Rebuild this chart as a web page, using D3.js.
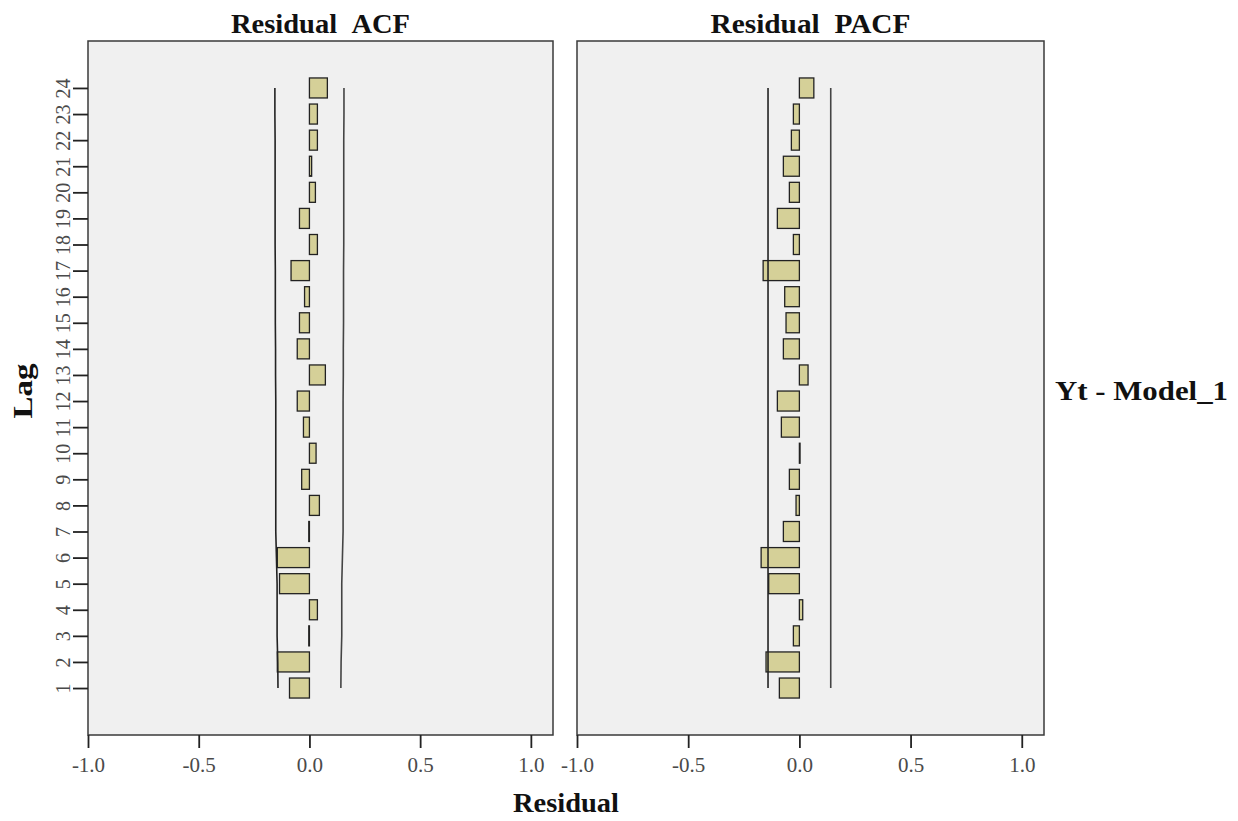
<!DOCTYPE html>
<html>
<head>
<meta charset="utf-8">
<script src="https://cdn.jsdelivr.net/npm/d3@7"></script>
<style>
  body { margin: 0; background: #fff; }
  text { font-family: "Liberation Serif", "DejaVu Serif", serif; }
</style>
</head>
<body>
<div id="chart-area"></div>
<script>
// lags 1..24
const lags = d3.range(1, 25);

const acfValues = [-0.09, -0.145, -0.003, 0.036, -0.135, -0.145, -0.003, 0.045, -0.035, 0.03,
  -0.027, -0.055, 0.072, -0.055, -0.045, -0.022, -0.083, 0.036, -0.045, 0.027,
  0.01, 0.036, 0.036, 0.081];

const pacfValues = [-0.09, -0.15, -0.027, 0.015, -0.138, -0.172, -0.072, -0.015, -0.045, 0.003,
  -0.081, -0.099, 0.039, -0.072, -0.06, -0.066, -0.163, -0.027, -0.099, -0.045,
  -0.072, -0.036, -0.027, 0.065];

// confidence limits
const acfLimits = [0.142, 0.143, 0.146, 0.146, 0.146, 0.149, 0.152, 0.152, 0.152, 0.152,
  0.152, 0.152, 0.153, 0.153, 0.154, 0.154, 0.154, 0.155, 0.155, 0.155,
  0.155, 0.155, 0.156, 0.156];
const pacfLimits = lags.map(() => 0.141);

const xTicks = [-1, -0.5, 0, 0.5, 1];

const WIDTH = 1238, HEIGHT = 821;
const TOP = 41, BOTTOM = 735;

const svg = d3.select('#chart-area')
  .append('svg')
  .attr('width', WIDTH)
  .attr('height', HEIGHT);

const y = d3.scaleLinear()
  .domain([-0.8, 25.8])
  .range([BOTTOM, TOP]);

const panels = [
  {title: 'Residual\u00a0\u00a0ACF', titleLen: 179, values: acfValues, limits: acfLimits, left: 88, right: 553},
  {title: 'Residual\u00a0\u00a0PACF', titleLen: 200, values: pacfValues, limits: pacfLimits, left: 577, right: 1044}
];

// bold label helper, stretched to the width seen in the picture
const boldText = (sel, txt, len) => sel
  .attr('font-size', '28px')
  .attr('font-weight', 'bold')
  .attr('fill', '#111')
  .attr('textLength', len)
  .attr('lengthAdjust', 'spacingAndGlyphs')
  .text(txt);

panels.forEach((p, i) => {
  const x = d3.scaleLinear()
    .domain([-1, 1.1])
    .range([p.left, p.right]);

  const g = svg.append('g');

  g.append('rect')
    .attr('x', p.left)
    .attr('y', TOP)
    .attr('width', p.right - p.left)
    .attr('height', BOTTOM - TOP)
    .attr('fill', '#f0f0f0')
    .attr('stroke', '#3a3a3a')
    .attr('stroke-width', 1.5);

  // title
  g.append('text')
    .attr('x', (p.left + p.right) / 2)
    .attr('y', 33)
    .attr('text-anchor', 'middle')
    .call(boldText, p.title, p.titleLen);

  // bars
  const data = lags.map((l, j) => ({lag: l, v: p.values[j], lim: p.limits[j]}));
  const bh = 20;
  g.selectAll('rect.bar').data(data)
    .enter().append('rect')
    .attr('class', 'bar')
    .attr('x', d => Math.min(x(0), x(d.v)))
    .attr('y', d => y(d.lag) - bh / 2)
    .attr('width', d => Math.abs(x(d.v) - x(0)))
    .attr('height', bh)
    .attr('fill', '#d5d098')
    .attr('stroke', '#222')
    .attr('stroke-width', 1.3);

  // confidence limits
  const line = d3.line().x(d => x(d[0])).y(d => y(d[1]));
  g.append('path')
    .attr('d', line(data.map(d => [-d.lim, d.lag])))
    .attr('fill', 'none')
    .attr('stroke', '#222')
    .attr('stroke-width', 1.6);
  g.append('path')
    .attr('d', line(data.map(d => [d.lim, d.lag])))
    .attr('fill', 'none')
    .attr('stroke', '#444')
    .attr('stroke-width', 1.6);

  // x axis
  const xAxis = g.append('g')
    .attr('transform', `translate(0,${BOTTOM})`)
    .call(d3.axisBottom(x).tickValues(xTicks).tickSize(13).tickPadding(9)
      .tickFormat(d => d.toFixed(1)));
  xAxis.select('.domain').remove();
  xAxis.selectAll('line').attr('stroke', '#222').attr('stroke-width', 1.8);
  xAxis.selectAll('text')
    .attr('font-size', '21px')
    .attr('fill', '#4a4a4a')
    .attr('font-family', '"Liberation Serif", serif');

  // y axis on the left panel only
  if (i === 0) {
    const yAxis = g.append('g')
      .attr('transform', `translate(${p.left},0)`)
      .call(d3.axisLeft(y).tickValues(lags).tickSize(15));
    yAxis.select('.domain').remove();
    yAxis.selectAll('line').attr('stroke', '#222').attr('stroke-width', 1.8);
    yAxis.selectAll('text')
      .attr('transform', 'rotate(-90)')
      .attr('x', 0)
      .attr('y', -18)
      .attr('dy', 0)
      .attr('text-anchor', 'middle')
      .attr('font-size', '20px')
      .attr('fill', '#4a4a4a')
      .attr('font-family', '"Liberation Serif", serif');
  }
});

// axis titles
svg.append('text')
  .attr('transform', 'translate(32,391) rotate(-90)')
  .attr('text-anchor', 'middle')
  .call(boldText, 'Lag', 55);

svg.append('text')
  .attr('x', 566)
  .attr('y', 812)
  .attr('text-anchor', 'middle')
  .call(boldText, 'Residual', 106);

svg.append('text')
  .attr('x', 1055)
  .attr('y', 400)
  .call(boldText, 'Yt - Model_1', 173);
</script>
</body>
</html>
